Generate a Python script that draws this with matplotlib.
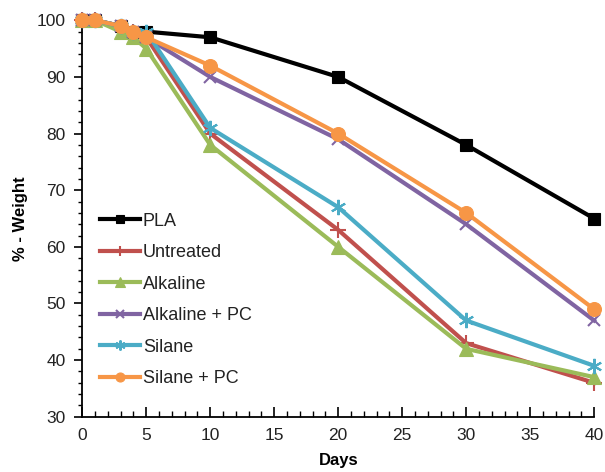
import matplotlib
matplotlib.use("Agg")
import matplotlib.pyplot as plt
from matplotlib.ticker import MultipleLocator

plt.rcParams['font.family'] = ['Liberation Sans', 'DejaVu Sans']

days = [0, 1, 3, 4, 5, 10, 20, 30, 40]
pla = [100, 100, 99, 98, 98, 97, 90, 78, 65]
untreated = [100, 100, 98.5, 98, 97, 80, 63, 43, 36]
alkaline = [100, 100, 98, 97, 95, 78, 60, 42, 37]
alkaline_pc = [100, 100, 99, 98, 97, 90, 79, 64, 47]
silane = [100, 100, 99, 98, 98, 81, 67, 47, 39]
silane_pc = [100, 100, 99, 98, 97, 92, 80, 66, 49]

series = [
    ("PLA", pla, "black", "s", 9),
    ("Untreated", untreated, "#C0504D", "+", 11),
    ("Alkaline", alkaline, "#9BBB59", "^", 10),
    ("Alkaline + PC", alkaline_pc, "#8064A2", "x", 9),
    ("Silane", silane, "#4BACC6", (6, 2, 0), 11),
    ("Silane + PC", silane_pc, "#F79646", "o", 10),
]

fig = plt.figure(figsize=(6.05, 4.72), dpi=100)
ax = fig.add_axes([0.136, 0.117, 0.846, 0.840])

for name, vals, col, mk, ms in series:
    ax.plot(days, vals, color=col, lw=3, marker=mk, markersize=ms,
            markeredgewidth=1.5 if mk not in ("s", "o", "^") else 0.8,
            markeredgecolor=col, markerfacecolor=col, label=name,
            clip_on=False, zorder=3)

ax.set_xlim(0, 40)
ax.set_ylim(30, 100)
ax.xaxis.set_major_locator(MultipleLocator(5))
ax.xaxis.set_minor_locator(MultipleLocator(1))
ax.yaxis.set_major_locator(MultipleLocator(10))
ax.yaxis.set_minor_locator(MultipleLocator(2))
for s in ("top", "right"):
    ax.spines[s].set_visible(False)
for s in ("left", "bottom"):
    ax.spines[s].set_linewidth(1.3)
ax.tick_params(axis='x', which='major', direction='in', length=7, width=1.2, labelsize=12.5, pad=8, labelcolor='#222222')
ax.tick_params(axis='x', which='minor', direction='in', length=4, width=1.0)
ax.tick_params(axis='y', which='major', direction='out', length=6, width=1.2, labelsize=12.5, pad=6, labelcolor='#222222')
ax.tick_params(axis='y', which='minor', direction='out', length=3, width=1.0)

ax.set_xlabel("Days", fontsize=12, fontweight='bold', labelpad=7)
ax.set_ylabel("% - Weight", fontsize=12, fontweight='bold', labelpad=6)

leg = ax.legend(loc='upper left', bbox_to_anchor=(0.0, 0.56), frameon=False,
                fontsize=13, handlelength=2.2, handletextpad=0.15,
                labelspacing=0.8, borderaxespad=0.6, markerscale=0.65)
for t in leg.get_texts():
    t.set_color('#222222')

fig.savefig("out.png", dpi=100)
